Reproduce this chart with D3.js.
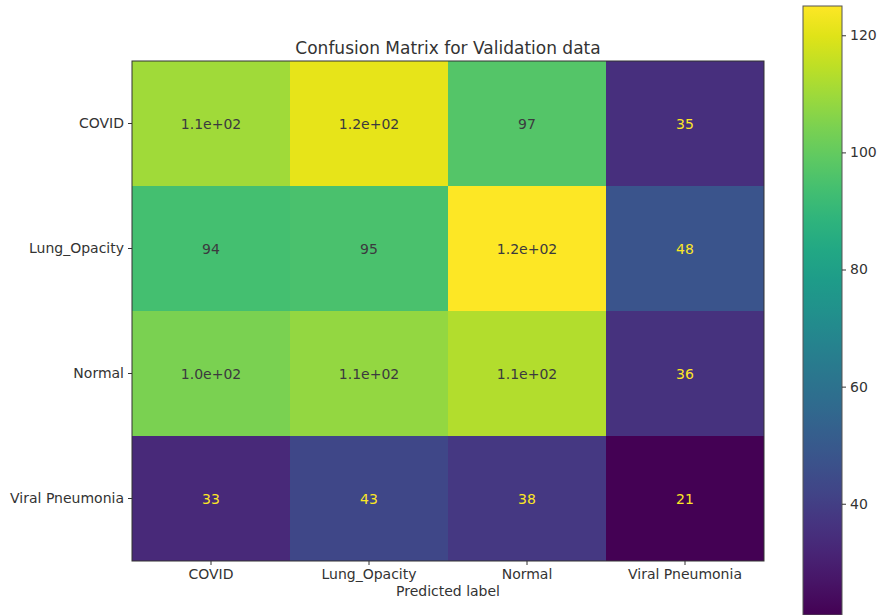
<!DOCTYPE html>
<html>
<head>
<meta charset="utf-8">
<script src="https://cdn.jsdelivr.net/npm/d3@7"></script>
<style>
  html, body { margin: 0; padding: 0; background: #fff; }
  svg { display: block; }
  text { font-family: "DejaVu Sans", sans-serif; }
</style>
</head>
<body>
<svg id="chart" width="883" height="615"></svg>
<script>
// Confusion matrix counts (rows = true label, columns = predicted label)
const classes = ["COVID", "Lung_Opacity", "Normal", "Viral Pneumonia"];
const rowCOVID = [110, 121, 97, 35];
const rowLungOpacity = [94, 95, 125, 48];
const rowNormal = [104, 108, 113, 36];
const rowViral = [33, 43, 38, 21];
const matrix = [rowCOVID, rowLungOpacity, rowNormal, rowViral];
const colorbarTicks = [40, 60, 80, 100, 120];

const svg = d3.select("#chart");
const plot = { left: 132, top: 61, right: 764, bottom: 561 };
const cbar = { left: 803, right: 842, top: 6, bottom: 615 };

const allValues = matrix.flat();
const vmin = d3.min(allValues), vmax = d3.max(allValues);
const color = d3.scaleSequential(d3.interpolateViridis).domain([vmin, vmax]);

const x = d3.scaleBand().domain(classes).range([plot.left, plot.right]);
const y = d3.scaleBand().domain(classes).range([plot.top, plot.bottom]);

const cells = [];
matrix.forEach((row, i) => row.forEach((v, j) => cells.push({ t: classes[i], p: classes[j], v })));

svg.append("g").selectAll("rect").data(cells).join("rect")
  .attr("x", d => x(d.p)).attr("y", d => y(d.t))
  .attr("width", x.bandwidth()).attr("height", y.bandwidth())
  .attr("fill", d => color(d.v));

// "%.2g"-style labels for integer counts (round half to even, like printf)
function fmt(v) {
  if (v < 100) return String(v);
  const e = Math.floor(Math.log10(v));
  const scaled = v / Math.pow(10, e - 1);          // e.g. 125 -> 12.5
  let r = Math.floor(scaled);
  const frac = scaled - r;
  if (frac > 0.5 || (frac === 0.5 && r % 2 === 1)) r += 1;
  const m = (r / 10).toFixed(1);
  return m + "e+" + String(e).padStart(2, "0");
}
const thresh = (vmin + vmax) / 2;
svg.append("g").selectAll("text").data(cells).join("text")
  .attr("x", d => x(d.p) + x.bandwidth() / 2)
  .attr("y", d => y(d.t) + y.bandwidth() / 2)
  .attr("text-anchor", "middle").attr("dominant-baseline", "central")
  .attr("font-size", 14)
  .attr("fill", d => d.v < thresh ? "#fde725" : "#3b3a3e")
  .text(d => fmt(d.v));

// frame
svg.append("rect")
  .attr("x", plot.left).attr("y", plot.top)
  .attr("width", plot.right - plot.left).attr("height", plot.bottom - plot.top)
  .attr("fill", "none").attr("stroke", "#333").attr("stroke-width", 1);

// axes
const xAxis = svg.append("g").attr("transform", `translate(0,${plot.bottom})`)
  .call(d3.axisBottom(x).tickSize(4).tickPadding(4));
const yAxis = svg.append("g").attr("transform", `translate(${plot.left},0)`)
  .call(d3.axisLeft(y).tickSize(4).tickPadding(4));
[xAxis, yAxis].forEach(g => {
  g.select(".domain").remove();
  g.selectAll("line").attr("stroke", "#333");
  g.selectAll("text").attr("font-size", 14).attr("fill", "#333")
    .attr("font-family", "DejaVu Sans, sans-serif");
});

svg.append("text")
  .attr("x", (plot.left + plot.right) / 2).attr("y", 54)
  .attr("text-anchor", "middle").attr("font-size", 17).attr("fill", "#333")
  .text("Confusion Matrix for Validation data");

svg.append("text")
  .attr("x", (plot.left + plot.right) / 2).attr("y", 596)
  .attr("text-anchor", "middle").attr("font-size", 14).attr("fill", "#333")
  .text("Predicted label");

// colorbar
const cScale = d3.scaleLinear().domain([vmin, vmax]).range([cbar.bottom, cbar.top]);
const grad = svg.append("defs").append("linearGradient")
  .attr("id", "viridisGrad").attr("x1", 0).attr("y1", 1).attr("x2", 0).attr("y2", 0);
d3.range(0, 1.0001, 0.05).forEach(t => {
  grad.append("stop").attr("offset", t).attr("stop-color", d3.interpolateViridis(t));
});
svg.append("rect")
  .attr("x", cbar.left).attr("y", cbar.top)
  .attr("width", cbar.right - cbar.left).attr("height", cbar.bottom - cbar.top)
  .attr("fill", "url(#viridisGrad)").attr("stroke", "#555").attr("stroke-width", 1);

const cAxis = svg.append("g").attr("transform", `translate(${cbar.right},0)`)
  .call(d3.axisRight(cScale).tickValues(colorbarTicks).tickSize(4).tickPadding(4));
cAxis.select(".domain").remove();
cAxis.selectAll("line").attr("stroke", "#333");
cAxis.selectAll("text").attr("font-size", 14).attr("fill", "#333")
  .attr("font-family", "DejaVu Sans, sans-serif");
</script>
</body>
</html>
